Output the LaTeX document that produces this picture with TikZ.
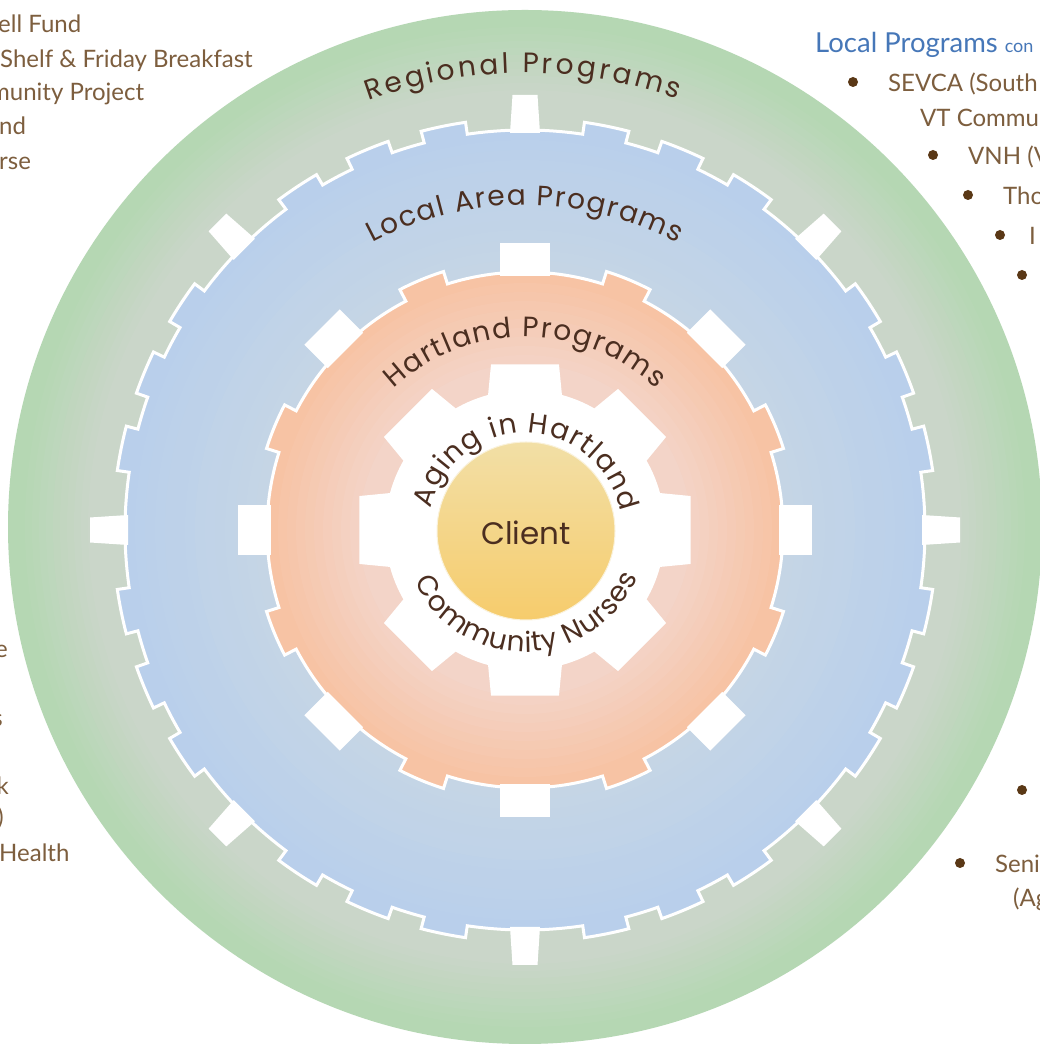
\documentclass[tikz,border=0pt]{standalone}
\usepackage{fontspec}
\setmainfont{Lato}
\newfontfamily\gothic{Poppins}
\usetikzlibrary{decorations.text}
\definecolor{grnIn}{HTML}{CAD6C9}
\definecolor{grnOut}{HTML}{B5D7B3}
\definecolor{bluIn}{HTML}{C6D6E5}
\definecolor{bluOut}{HTML}{B9CFEB}
\definecolor{orgIn}{HTML}{F3D4C8}
\definecolor{orgOut}{HTML}{F7C3A4}
\definecolor{cliTop}{HTML}{F2DFA6}
\definecolor{cliBot}{HTML}{F6CC6C}
\definecolor{ringbrown}{HTML}{4B2E20}
\definecolor{listbrown}{HTML}{7D5E3E}
\definecolor{bulletbrown}{HTML}{5A3816}
\definecolor{localblue}{HTML}{4677B8}
\newcommand\ringfont{\gothic\fontsize{28}{30}\selectfont}
\newcommand\listfont{\fontsize{24}{27}\selectfont}
\def\rg{400}\def\rt{412}
\def\og{258}\def\ot{271}
\newcommand\bluegear[1]{%
  \path[#1] (0:\rg)
    \foreach \q in {0,45,...,315} {
      arc[start angle=\q, end angle=\q+8.3, radius=\rg]
      -- (\q+8.3:\rt) arc[start angle=\q+8.3, end angle=\q+14.6, radius=\rt]
      -- (\q+14.6:\rg) arc[start angle=\q+14.6, end angle=\q+19.4, radius=\rg]
      -- (\q+19.4:\rt) arc[start angle=\q+19.4, end angle=\q+25.6, radius=\rt]
      -- (\q+25.6:\rg) arc[start angle=\q+25.6, end angle=\q+30.4, radius=\rg]
      -- (\q+30.4:\rt) arc[start angle=\q+30.4, end angle=\q+36.7, radius=\rt]
      -- (\q+36.7:\rg) arc[start angle=\q+36.7, end angle=\q+45, radius=\rg]
    } -- cycle;}
\newcommand\orangegear[1]{%
  \path[#1] (-17.5:\og)
    \foreach \q in {0,45,...,315} {
      arc[start angle=\q-17.5, end angle=\q+17.5, radius=\og]
      -- (\q+17.5:\ot) arc[start angle=\q+17.5, end angle=\q+27.5, radius=\ot]
      -- (\q+27.5:\og)
    } -- cycle;}
\begin{document}
\begin{tikzpicture}[x=1pt,y=1pt,
  ringlabel/.style={decorate, decoration={text along path, text align=fit to path, text color=ringbrown, text={|\ringfont|#1}}},
  listtext/.style={anchor=base west, text=listbrown, font=\listfont, inner sep=0pt},
  bulletdot/.style={circle, fill=bulletbrown, inner sep=0pt, minimum size=10pt},
  whitetooth/.style={fill=white},
]
\useasboundingbox (0,0) rectangle (1039,1047);
\fill[white] (0,0) rectangle (1039,1047);

\begin{scope}[shift={(525,517)}]
  % regional ring (green), graded from rim inward
  \fill[grnOut] (0,3) circle (517);
  \foreach \i in {0,...,15} {
    \pgfmathtruncatemacro\pp{min(100,100*\i/10)}
    \fill[grnIn!\pp!grnOut] (0,3) circle ({507-7*\i});
  }
  % local area gear (blue)
  \bluegear{fill=bluOut}
  \foreach \i in {0,...,14} {
    \pgfmathtruncatemacro\pp{100*\i/14}
    \fill[bluIn!\pp!bluOut] (0,0) circle ({400-10*\i});
  }
  \bluegear{draw=white, line width=3pt}
  \foreach \q in {0,45,...,315}
    \fill[whitetooth, rotate=\q] (397,-15) -- (435,-12.5) -- (435,12.5) -- (397,15) -- cycle;
  % Hartland gear (orange)
  \orangegear{fill=orgOut}
  \foreach \i in {0,...,12} {
    \pgfmathtruncatemacro\pp{min(100,100*\i/10)}
    \fill[orgIn!\pp!orgOut] (0,0) circle ({256-9*\i});
  }
  \orangegear{draw=white, line width=3pt}
  \foreach \q in {0,45,...,315}
    \fill[whitetooth, rotate=\q] (254,-25) -- (287,-25) -- (287,25) -- (254,25) -- cycle;
  % Aging in Hartland gear
  \fill[white] (-15.3:140)
    \foreach \q in {0,45,...,315} {
      -- (\q-15.3:140) -- (\q-11.6:169) -- (\q+11.6:169) -- (\q+15.3:140)
      arc[start angle=\q+15.3, end angle=\q+29.7, radius=140]
    } -- cycle;
  % client
  \shade[top color=cliTop, bottom color=cliBot, draw=white!60!cliTop, line width=1pt] (1,-1) circle (89);
  \node[font=\gothic\fontsize{31}{33}\selectfont, text=ringbrown, inner sep=0pt] (client) at (1,-3) {Client};
  % ring labels
  \path[ringlabel={Regional Programs}] (110:457) arc[start angle=110, end angle=70.5, radius=457];
  \path[ringlabel={Local Area Programs}] (118:325) arc[start angle=118, end angle=62, radius=325];
  \path[ringlabel={Hartland Programs}] (133:193) arc[start angle=133, end angle=47, radius=193];
  \path[ringlabel={Aging in Hartland}] (167:97) arc[start angle=167, end angle=11, radius=97];
  \path[ringlabel={Community Nurses}] (205:122) arc[start angle=205, end angle=337, radius=122];
\end{scope}

% left list (cut by page edge)
\node[listtext] (l1) at (-2,1014) {ell Fund};
\node[listtext] (l2) at (0,979) {Shelf \& Friday Breakfast};
\node[listtext] (l3) at (-10,946) {munity Project};
\node[listtext] (l4) at (-1,912) {nd};
\node[listtext] (l5) at (-1,877) {rse};
\node[listtext, anchor=base east] (l6) at (8,389) {e};
\node[listtext, anchor=base east] (l7) at (3,320) {s};
\node[listtext, anchor=base east] (l8) at (9,252) {k};
\node[listtext, anchor=base east] (l9) at (4,221) {)};
\node[listtext] (l10) at (-1,185) {Health};

% right list
\node[anchor=base west, inner sep=0pt, text=localblue, font=\fontsize{27.5}{30}\selectfont] (lp) at (815,994) {Local Programs {\fontsize{18}{20}\selectfont con}};
\node[bulletdot] (b1) at (853,965) {};
\node[listtext] (r1) at (888,955) {SEVCA (South};
\node[listtext] (r2) at (920,920) {VT Commu};
\node[bulletdot] (b2) at (933,892) {};
\node[listtext] (r3) at (968,882) {VNH (V};
\node[bulletdot] (b3) at (968,852) {};
\node[listtext] (r4) at (1003,842) {Tho};
\node[bulletdot] (b4) at (1000,812) {};
\node[listtext] (r5) at (1029,802) {I};
\node[bulletdot] (b5) at (1022,772) {};
\node[bulletdot] (b6) at (1022,257) {};
\node[bulletdot] (b7) at (960,184) {};
\node[listtext] (r6) at (995,174) {Seni};
\node[listtext] (r7) at (1013,140) {(Ag};
\end{tikzpicture}
\end{document}
